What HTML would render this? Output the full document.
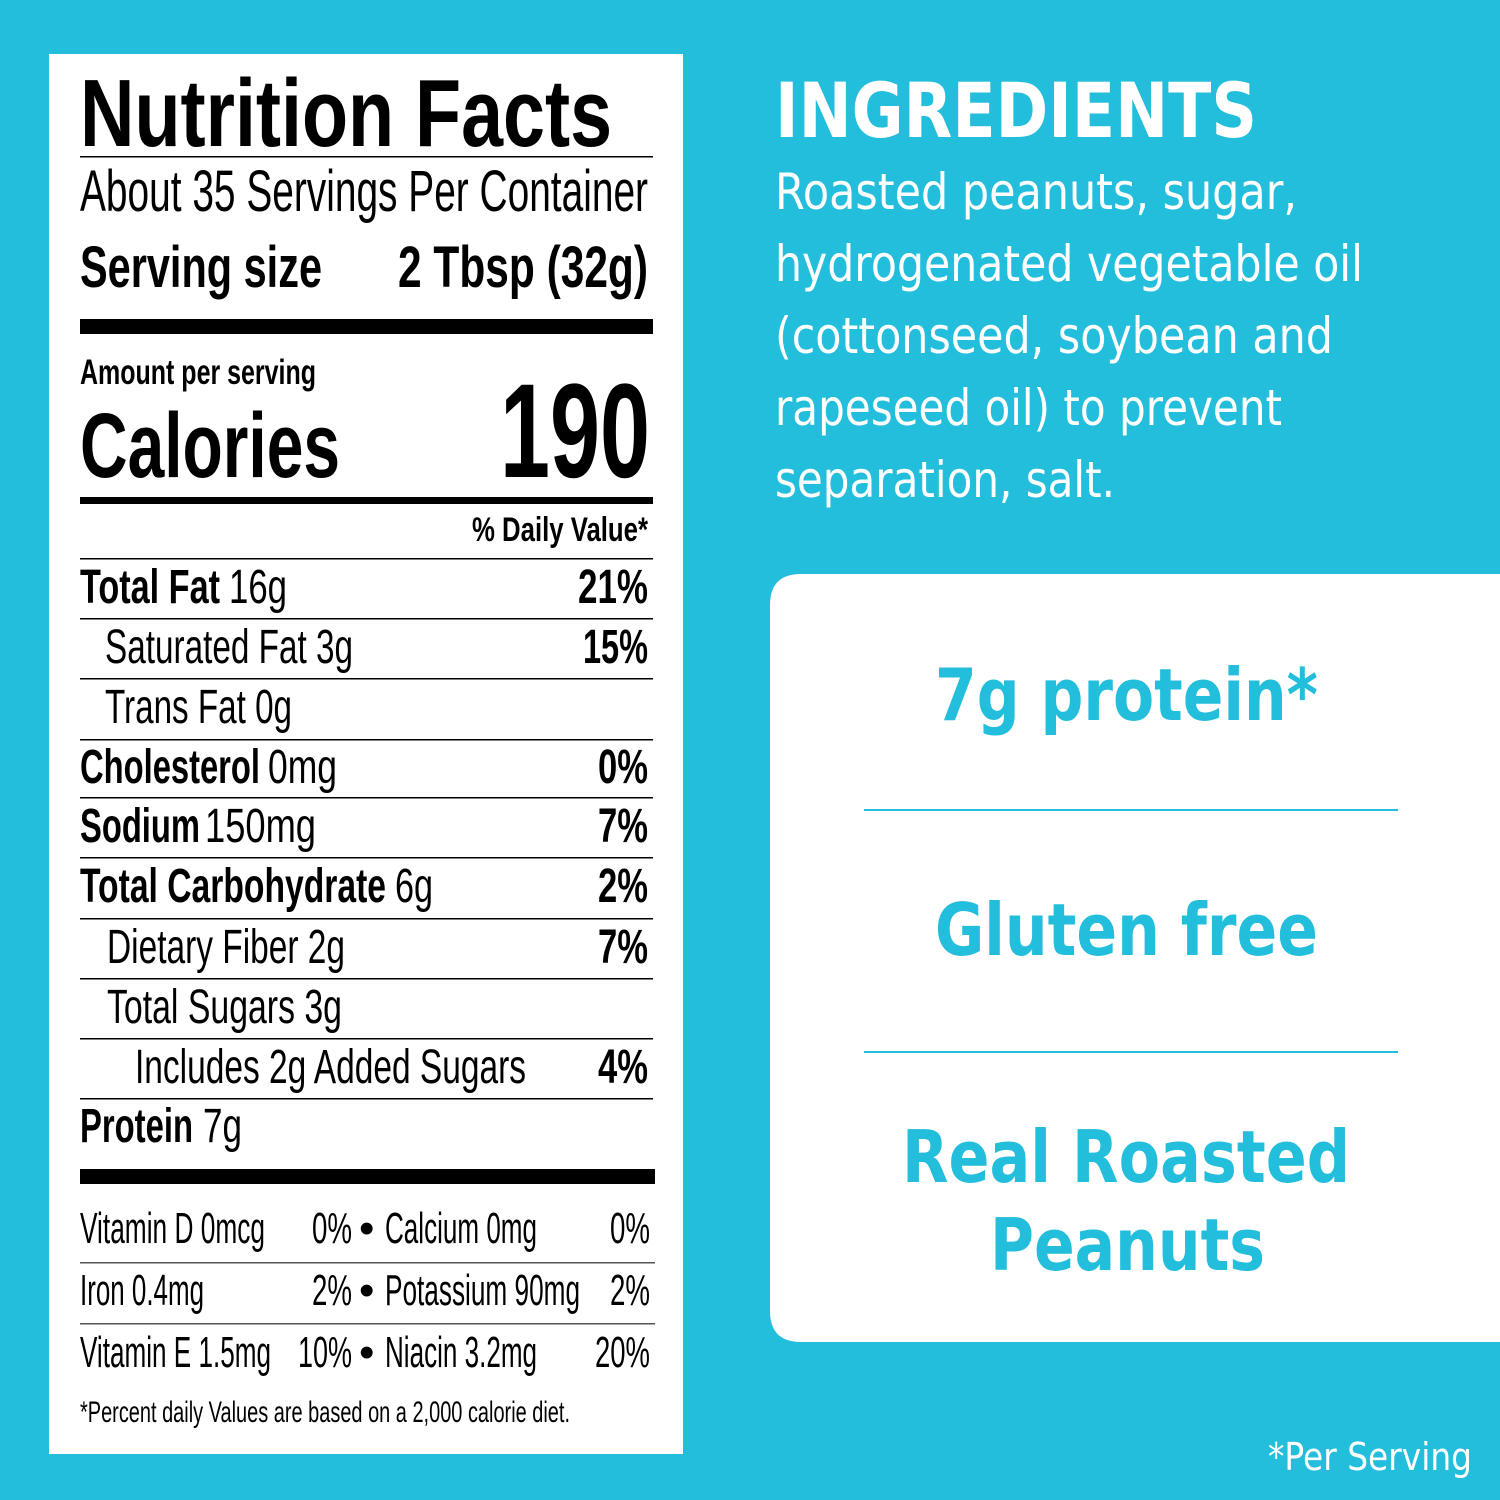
<!DOCTYPE html>
<html><head><meta charset="utf-8"><style>
html,body{margin:0;padding:0;background:#22BEDC;}
svg{display:block}
.c{font-family:"Liberation Sans",sans-serif;fill:#000}
.b{font-weight:bold}
.w{font-family:"DejaVu Sans","Liberation Sans",sans-serif;fill:#fff}
.t{font-family:"DejaVu Sans","Liberation Sans",sans-serif;fill:#22BEDC;font-weight:bold}
</style></head><body>
<svg width="1500" height="1500" viewBox="0 0 1500 1500" xmlns="http://www.w3.org/2000/svg">
<rect width="1500" height="1500" fill="#22BEDC"/>
<rect x="49" y="54" width="634" height="1400" fill="#fff"/>
<g>
<text class="c b" x="80" y="146" font-size="96" textLength="532" lengthAdjust="spacingAndGlyphs">Nutrition Facts</text>
<rect x="80" y="156" width="573" height="1.5" fill="#000"/>
<text class="c" x="80" y="211" font-size="58" textLength="568" lengthAdjust="spacingAndGlyphs">About 35 Servings Per Container</text>
<text class="c b" x="80" y="287" font-size="58" textLength="242" lengthAdjust="spacingAndGlyphs">Serving size</text>
<text class="c b" x="398" y="287" font-size="58" textLength="250" lengthAdjust="spacingAndGlyphs">2 Tbsp (32g)</text>
<rect x="80" y="319" width="573" height="15" fill="#000"/>
<text class="c b" x="80" y="384" font-size="35" textLength="236" lengthAdjust="spacingAndGlyphs">Amount per serving</text>
<text class="c b" x="80" y="477" font-size="92" textLength="260" lengthAdjust="spacingAndGlyphs">Calories</text>
<text class="c b" x="500" y="477" font-size="134" textLength="150" lengthAdjust="spacingAndGlyphs">190</text>
<rect x="80" y="497" width="573" height="7" fill="#000"/>
<text class="c b" x="472" y="541" font-size="34" textLength="176" lengthAdjust="spacingAndGlyphs">% Daily Value*</text>
<g fill="#000">
<rect x="80" y="558" width="573" height="1.5"/>
<rect x="80" y="618" width="573" height="1.5"/>
<rect x="80" y="678" width="573" height="1.5"/>
<rect x="80" y="739" width="573" height="1.5"/>
<rect x="80" y="797" width="573" height="1.5"/>
<rect x="80" y="857" width="573" height="1.5"/>
<rect x="80" y="918" width="573" height="1.5"/>
<rect x="80" y="978" width="573" height="1.5"/>
<rect x="80" y="1038" width="573" height="1.5"/>
<rect x="80" y="1098" width="573" height="1.5"/>
</g>
<g font-size="48">
<text class="c b" x="80" y="603" textLength="140" lengthAdjust="spacingAndGlyphs">Total Fat</text>
<text class="c" x="229" y="603" textLength="58" lengthAdjust="spacingAndGlyphs">16g</text>
<text class="c b" x="578" y="603" textLength="70" lengthAdjust="spacingAndGlyphs">21%</text>
<text class="c" x="105" y="663" textLength="248" lengthAdjust="spacingAndGlyphs">Saturated Fat 3g</text>
<text class="c b" x="583" y="663" textLength="65" lengthAdjust="spacingAndGlyphs">15%</text>
<text class="c" x="105" y="723" textLength="187" lengthAdjust="spacingAndGlyphs">Trans Fat 0g</text>
<text class="c b" x="80" y="783" textLength="180" lengthAdjust="spacingAndGlyphs">Cholesterol</text>
<text class="c" x="268" y="783" textLength="69" lengthAdjust="spacingAndGlyphs">0mg</text>
<text class="c b" x="598" y="783" textLength="50" lengthAdjust="spacingAndGlyphs">0%</text>
<text class="c b" x="80" y="842" textLength="120" lengthAdjust="spacingAndGlyphs">Sodium</text>
<text class="c" x="205" y="842" textLength="111" lengthAdjust="spacingAndGlyphs">150mg</text>
<text class="c b" x="598" y="842" textLength="50" lengthAdjust="spacingAndGlyphs">7%</text>
<text class="c b" x="80" y="902" textLength="306" lengthAdjust="spacingAndGlyphs">Total Carbohydrate</text>
<text class="c" x="395" y="902" textLength="38" lengthAdjust="spacingAndGlyphs">6g</text>
<text class="c b" x="598" y="902" textLength="50" lengthAdjust="spacingAndGlyphs">2%</text>
<text class="c" x="107" y="963" textLength="238" lengthAdjust="spacingAndGlyphs">Dietary Fiber 2g</text>
<text class="c b" x="598" y="963" textLength="50" lengthAdjust="spacingAndGlyphs">7%</text>
<text class="c" x="107" y="1023" textLength="235" lengthAdjust="spacingAndGlyphs">Total Sugars 3g</text>
<text class="c" x="135" y="1083" textLength="391" lengthAdjust="spacingAndGlyphs">Includes 2g Added Sugars</text>
<text class="c b" x="598" y="1083" textLength="50" lengthAdjust="spacingAndGlyphs">4%</text>
<text class="c b" x="80" y="1142" textLength="113" lengthAdjust="spacingAndGlyphs">Protein</text>
<text class="c" x="203" y="1142" textLength="39" lengthAdjust="spacingAndGlyphs">7g</text>
</g>
<rect x="80" y="1169" width="575" height="15" fill="#000"/>
<g font-size="44">
<text class="c" x="80" y="1243" textLength="185" lengthAdjust="spacingAndGlyphs">Vitamin D 0mcg</text>
<text class="c" x="312" y="1243" textLength="40" lengthAdjust="spacingAndGlyphs">0%</text>
<text class="c" x="359" y="1243">•</text>
<text class="c" x="385" y="1243" textLength="152" lengthAdjust="spacingAndGlyphs">Calcium 0mg</text>
<text class="c" x="610" y="1243" textLength="40" lengthAdjust="spacingAndGlyphs">0%</text>
<text class="c" x="80" y="1305" textLength="124" lengthAdjust="spacingAndGlyphs">Iron 0.4mg</text>
<text class="c" x="312" y="1305" textLength="40" lengthAdjust="spacingAndGlyphs">2%</text>
<text class="c" x="359" y="1305">•</text>
<text class="c" x="385" y="1305" textLength="195" lengthAdjust="spacingAndGlyphs">Potassium 90mg</text>
<text class="c" x="610" y="1305" textLength="40" lengthAdjust="spacingAndGlyphs">2%</text>
<text class="c" x="80" y="1367" textLength="191" lengthAdjust="spacingAndGlyphs">Vitamin E 1.5mg</text>
<text class="c" x="298" y="1367" textLength="54" lengthAdjust="spacingAndGlyphs">10%</text>
<text class="c" x="359" y="1367">•</text>
<text class="c" x="385" y="1367" textLength="152" lengthAdjust="spacingAndGlyphs">Niacin 3.2mg</text>
<text class="c" x="595" y="1367" textLength="55" lengthAdjust="spacingAndGlyphs">20%</text>
</g>
<rect x="80" y="1262" width="575" height="1.5" fill="#555"/>
<rect x="80" y="1323" width="575" height="1.5" fill="#555"/>
<text class="c" x="80" y="1422" font-size="30" textLength="490" lengthAdjust="spacingAndGlyphs">*Percent daily Values are based on a 2,000 calorie diet.</text>

<text class="w" x="775" y="137" font-size="76" font-weight="bold" textLength="482" lengthAdjust="spacingAndGlyphs">INGREDIENTS</text>
<g font-size="50">
<text class="w" x="775" y="209" textLength="522" lengthAdjust="spacingAndGlyphs">Roasted peanuts, sugar,</text>
<text class="w" x="775" y="281" textLength="588" lengthAdjust="spacingAndGlyphs">hydrogenated vegetable oil</text>
<text class="w" x="775" y="353" textLength="558" lengthAdjust="spacingAndGlyphs">(cottonseed, soybean and</text>
<text class="w" x="775" y="425" textLength="507" lengthAdjust="spacingAndGlyphs">rapeseed oil) to prevent</text>
<text class="w" x="775" y="497" textLength="340" lengthAdjust="spacingAndGlyphs">separation, salt.</text>
</g>
<path d="M770 1311 V605 Q770 574 801 574 H1500 V1342 H801 Q770 1342 770 1311 Z" fill="#fff"/>
<text class="t" x="935" y="720" font-size="72" textLength="383" lengthAdjust="spacingAndGlyphs">7g protein*</text>
<rect x="864" y="809" width="534" height="2" fill="#22BEDC"/>
<text class="t" x="935" y="955" font-size="72" textLength="383" lengthAdjust="spacingAndGlyphs">Gluten free</text>
<rect x="864" y="1051" width="534" height="2" fill="#22BEDC"/>
<text class="t" x="902" y="1182" font-size="72" textLength="448" lengthAdjust="spacingAndGlyphs">Real Roasted</text>
<text class="t" x="990" y="1270" font-size="72" textLength="275" lengthAdjust="spacingAndGlyphs">Peanuts</text>
<text class="w" x="1268" y="1470" font-size="38" textLength="204" lengthAdjust="spacingAndGlyphs">*Per Serving</text>
</g>
</svg>
</body></html>
